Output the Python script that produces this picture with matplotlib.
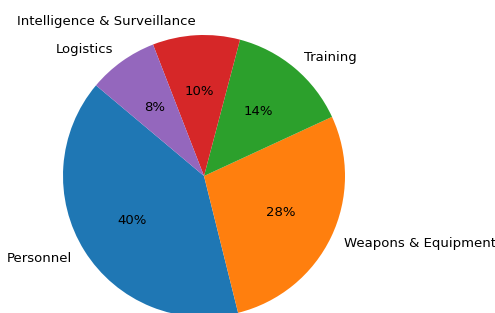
import matplotlib
matplotlib.use("Agg")
import matplotlib.pyplot as plt

labels = ["Personnel", "Weapons & Equipment", "Training",
          "Intelligence & Surveillance", "Logistics"]
shares = [40, 28, 14, 10, 8]

W, H = 495, 313
fig = plt.figure(figsize=(W / 100, H / 100), dpi=100)

cx, cy, r = 204, 137, 141
half = 1.5 * r
ax = fig.add_axes([(cx - half) / W, (cy - half) / H, 2 * half / W, 2 * half / H])

ax.pie(shares, labels=labels, autopct="%1.0f%%", startangle=140,
       textprops={"fontsize": 9.5})
ax.set_xlim(-1.5, 1.5)
ax.set_ylim(-1.5, 1.5)
ax.axis("off")

fig.savefig("out.png", dpi=100)
